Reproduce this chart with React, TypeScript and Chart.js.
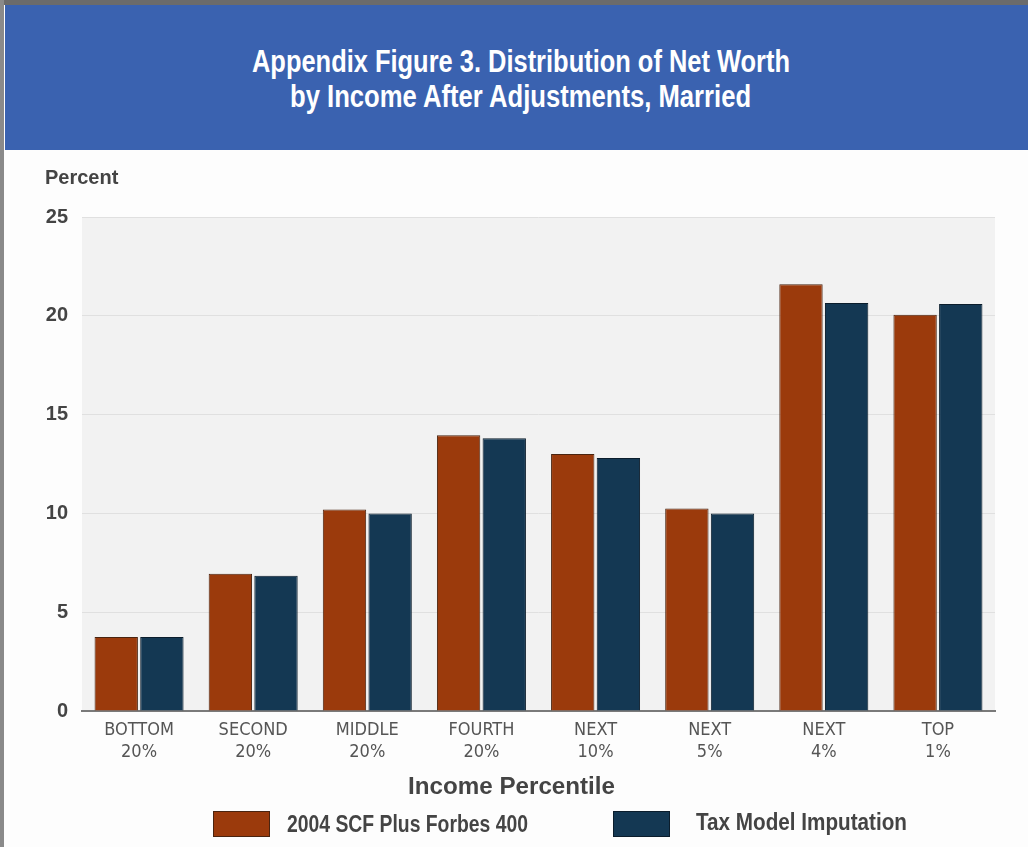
import React, { useEffect, useRef } from "react";
import { Chart, registerables } from "chart.js";

Chart.register(...registerables);

const categories: string[][] = [
  ["BOTTOM", "20%"],
  ["SECOND", "20%"],
  ["MIDDLE", "20%"],
  ["FOURTH", "20%"],
  ["NEXT", "10%"],
  ["NEXT", "5%"],
  ["NEXT", "4%"],
  ["TOP", "1%"],
];
const scfForbes: number[] = [3.75, 6.95, 10.2, 13.95, 13.0, 10.25, 21.6, 20.05];
const taxModel: number[] = [3.75, 6.85, 10.0, 13.8, 12.8, 10.0, 20.65, 20.6];
const yTicks: number[] = [0, 5, 10, 15, 20, 25];

const TITLE_1 = "Appendix Figure 3. Distribution of Net Worth";
const TITLE_2 = "by Income After Adjustments, Married";
const Y_TITLE = "Percent";
const X_TITLE = "Income Percentile";
const SERIES_1 = "2004 SCF Plus Forbes 400";
const SERIES_2 = "Tax Model Imputation";

const ORANGE = "#9b3a0c";
const BLUE = "#143853";
const NARROW = '"DejaVu Sans Condensed", "Liberation Sans", sans-serif';
const SANS = '"Liberation Sans", Arial, sans-serif';

const bgPlugin = {
  id: "plotBg",
  beforeDraw(chart: any) {
    const { ctx, chartArea } = chart;
    if (!chartArea) return;
    ctx.save();
    ctx.fillStyle = "#f2f2f2";
    ctx.fillRect(chartArea.left, chartArea.top, chartArea.right - chartArea.left, chartArea.bottom - chartArea.top);
    ctx.restore();
  },
};

let measureCtx: CanvasRenderingContext2D | null = null;
function measure(text: string, font: string): number {
  if (!measureCtx) measureCtx = document.createElement("canvas").getContext("2d");
  if (!measureCtx) return 1;
  measureCtx.font = font;
  return measureCtx.measureText(text).width || 1;
}

// Text squeezed horizontally to imitate a condensed face.
function FitText(props: { text: string; cx?: number; left?: number; top: number; width: number; size: number; color: string }) {
  const { text, cx, left, top, width, size, color } = props;
  const w = measure(text, `bold ${size}px ${SANS}`);
  const s = width / w;
  const x = left !== undefined ? left : (cx as number) - width / 2;
  return (
    <div
      style={{
        position: "absolute",
        left: x,
        top,
        width: w,
        fontFamily: SANS,
        fontWeight: "bold",
        fontSize: size,
        lineHeight: `${Math.round(size * 1.2)}px`,
        color,
        whiteSpace: "nowrap",
        transform: `scaleX(${s})`,
        transformOrigin: "0 0",
      }}
    >
      {text}
    </div>
  );
}

export default function App() {
  const canvasRef = useRef<HTMLCanvasElement | null>(null);

  useEffect(() => {
    if (!canvasRef.current) return;
    const chart = new Chart(canvasRef.current, {
      type: "bar",
      data: {
        labels: categories,
        datasets: [
          {
            label: SERIES_1,
            data: scfForbes,
            backgroundColor: ORANGE,
            borderColor: "#4a2410",
            borderWidth: 1,
            categoryPercentage: 0.8,
            barPercentage: 0.95,
          },
          {
            label: SERIES_2,
            data: taxModel,
            backgroundColor: BLUE,
            borderColor: "#0b1d2c",
            borderWidth: 1,
            categoryPercentage: 0.8,
            barPercentage: 0.95,
          },
        ],
      },
      plugins: [bgPlugin],
      options: {
        animation: false,
        responsive: false,
        maintainAspectRatio: false,
        layout: { padding: { top: 217, right: 33, bottom: 76, left: 0 } },
        plugins: {
          legend: { display: false },
          tooltip: { enabled: false },
          title: { display: false },
        },
        scales: {
          x: {
            grid: { display: false, drawTicks: false },
            border: { display: true, color: "#7a7a7a", width: 2 },
            ticks: {
              color: "#555555",
              padding: 8,
              font: { family: NARROW, size: 18, lineHeight: 1.25 },
            },
            afterFit(scale: any) {
              scale.height = 60;
            },
          },
          y: {
            min: 0,
            max: 25,
            afterBuildTicks(scale: any) {
              scale.ticks = yTicks.map((v) => ({ value: v }));
            },
            grid: { color: "#e0e0e0", lineWidth: 1, drawTicks: false },
            border: { display: false },
            ticks: {
              color: "#444444",
              padding: 14,
              font: { family: SANS, size: 20, weight: "bold" },
            },
            afterFit(scale: any) {
              scale.width = 82;
            },
          },
        },
      },
    } as any);
    return () => chart.destroy();
  }, []);

  return (
    <div
      style={{
        position: "absolute",
        left: 0,
        top: 0,
        width: 1028,
        height: 847,
        background: "#fdfdfd",
        overflow: "hidden",
      }}
    >
      <div style={{ position: "absolute", left: 0, top: 0, width: 1028, height: 5, background: "#6b6b6b" }} />
      <div style={{ position: "absolute", left: 0, top: 0, width: 4, height: 847, background: "#8a8a8a" }} />
      <div style={{ position: "absolute", left: 5, top: 5, width: 1023, height: 145, background: "#3a62b0" }} />
      <FitText text={TITLE_1} cx={521} top={43} width={538} size={31} color="#ffffff" />
      <FitText text={TITLE_2} cx={521} top={78} width={463} size={31} color="#ffffff" />
      <canvas
        ref={canvasRef}
        width={1028}
        height={847}
        style={{ position: "absolute", left: 0, top: 0, width: 1028, height: 847 }}
      />
      <div
        style={{
          position: "absolute",
          left: 45,
          top: 166,
          fontFamily: SANS,
          fontWeight: "bold",
          fontSize: 20,
          color: "#444444",
        }}
      >
        {Y_TITLE}
      </div>
      <FitText text={X_TITLE} left={408} top={771} width={207} size={24} color="#444444" />
      <div style={{ position: "absolute", left: 213, top: 811, width: 57, height: 26, background: ORANGE, border: "1px solid #4a2410", boxSizing: "border-box" }} />
      <FitText text={SERIES_1} left={287} top={809} width={241} size={24} color="#444444" />
      <div style={{ position: "absolute", left: 613, top: 811, width: 57, height: 26, background: BLUE, border: "1px solid #0b1d2c", boxSizing: "border-box" }} />
      <FitText text={SERIES_2} left={696} top={807} width={211} size={24} color="#444444" />
    </div>
  );
}
